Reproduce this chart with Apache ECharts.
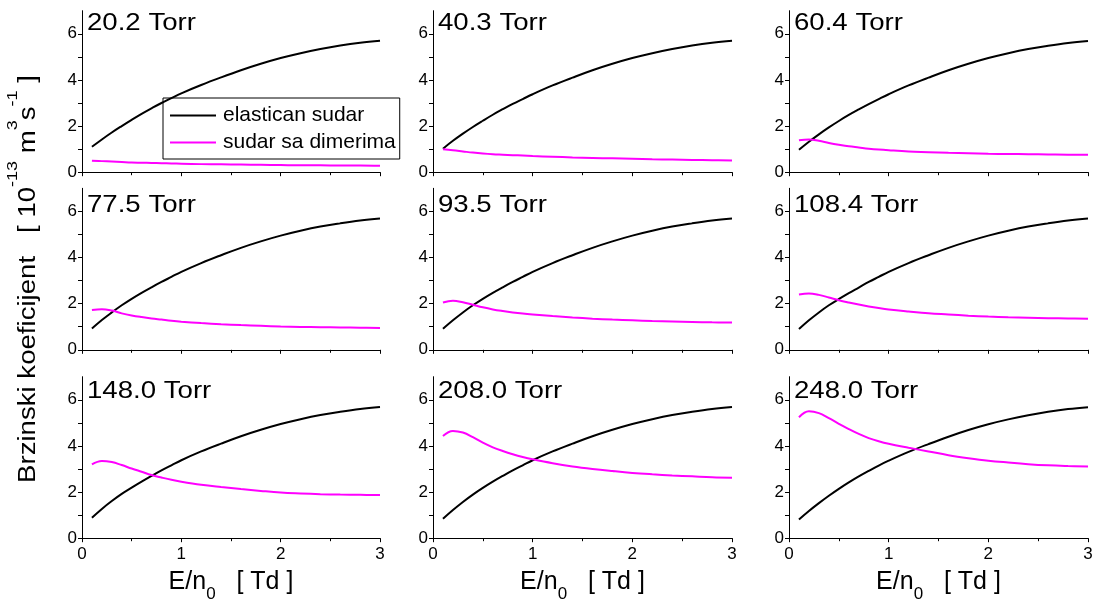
<!DOCTYPE html>
<html>
<head>
<meta charset="utf-8">
<script src="https://cdn.jsdelivr.net/npm/echarts@6/dist/echarts.min.js"></script>
<style>
html,body{margin:0;padding:0;background:#fff;}
#chart{width:1096px;height:606px;}
</style>
</head>
<body>
<div id="chart"></div>
<script>
// ---------- data ----------
const xValues = [0.1,0.2,0.3,0.4,0.5,0.6,0.7,0.8,0.9,1.0,1.2,1.4,1.6,1.8,2.0,2.2,2.4,2.6,2.8,3.0];
const panelTitles = ['20.2 Torr','40.3 Torr','60.4 Torr','77.5 Torr','93.5 Torr','108.4 Torr','148.0 Torr','208.0 Torr','248.0 Torr'];
const seriesNames = ['elastican sudar','sudar sa dimerima'];
const xTickLabels = [0,1,2,3];
const yTickLabels = [0,2,4,6];

// elastican sudar (black)
const elastic1 = [1.10,1.42,1.72,2.00,2.27,2.53,2.77,3.00,3.21,3.42,3.78,4.11,4.42,4.70,4.95,5.16,5.34,5.49,5.61,5.70];
const elastic2 = [1.02,1.36,1.67,1.96,2.23,2.49,2.73,2.96,3.17,3.38,3.76,4.10,4.42,4.70,4.95,5.16,5.34,5.49,5.61,5.70];
const elastic3 = [0.97,1.32,1.64,1.94,2.22,2.48,2.72,2.95,3.17,3.38,3.76,4.10,4.42,4.70,4.95,5.16,5.34,5.48,5.60,5.69];
const elastic4 = [0.92,1.29,1.62,1.93,2.21,2.47,2.71,2.94,3.16,3.38,3.76,4.10,4.42,4.70,4.95,5.16,5.34,5.48,5.60,5.69];
const elastic5 = [0.91,1.28,1.62,1.93,2.21,2.47,2.71,2.94,3.16,3.38,3.76,4.10,4.42,4.70,4.95,5.16,5.34,5.48,5.60,5.69];
const elastic6 = [0.90,1.28,1.62,1.93,2.20,2.46,2.70,2.94,3.16,3.38,3.76,4.10,4.42,4.70,4.95,5.16,5.34,5.48,5.60,5.69];
const elastic7 = [0.89,1.27,1.61,1.92,2.19,2.45,2.70,2.94,3.16,3.38,3.76,4.10,4.42,4.70,4.95,5.16,5.34,5.48,5.60,5.69];
const elastic8 = [0.84,1.22,1.57,1.89,2.18,2.45,2.70,2.94,3.16,3.38,3.76,4.10,4.42,4.70,4.95,5.16,5.34,5.48,5.60,5.69];
const elastic9 = [0.81,1.18,1.52,1.84,2.14,2.42,2.68,2.92,3.15,3.36,3.74,4.08,4.40,4.69,4.94,5.15,5.33,5.48,5.60,5.68];

// sudar sa dimerima (magenta)
const dimer1 = [0.50,0.48,0.46,0.44,0.42,0.41,0.40,0.39,0.38,0.37,0.35,0.34,0.33,0.32,0.31,0.30,0.30,0.29,0.29,0.28];
const dimer2 = [0.99,0.95,0.90,0.85,0.81,0.78,0.76,0.74,0.72,0.70,0.67,0.64,0.62,0.60,0.58,0.56,0.55,0.53,0.52,0.51];
const dimer3 = [1.38,1.42,1.36,1.27,1.19,1.12,1.07,1.02,0.98,0.95,0.90,0.87,0.84,0.82,0.80,0.79,0.78,0.77,0.76,0.76];
const dimer4 = [1.73,1.76,1.70,1.58,1.49,1.42,1.36,1.31,1.26,1.22,1.16,1.11,1.07,1.04,1.01,0.99,0.98,0.97,0.96,0.95];
const dimer5 = [2.05,2.13,2.06,1.95,1.84,1.75,1.68,1.62,1.57,1.53,1.46,1.40,1.35,1.31,1.28,1.25,1.23,1.21,1.19,1.18];
const dimer6 = [2.40,2.44,2.38,2.27,2.15,2.05,1.96,1.88,1.81,1.75,1.66,1.58,1.53,1.48,1.44,1.41,1.39,1.37,1.36,1.35];
const dimer7 = [3.20,3.35,3.30,3.17,3.02,2.88,2.74,2.63,2.53,2.45,2.32,2.22,2.13,2.05,1.98,1.94,1.91,1.89,1.88,1.87];
const dimer8 = [4.43,4.65,4.58,4.38,4.14,3.94,3.78,3.64,3.52,3.42,3.25,3.11,3.00,2.91,2.83,2.77,2.72,2.68,2.64,2.62];
const dimer9 = [5.24,5.50,5.42,5.20,4.96,4.73,4.52,4.34,4.20,4.09,3.92,3.76,3.60,3.47,3.36,3.28,3.21,3.16,3.13,3.11];

const elasticSets = [elastic1,elastic2,elastic3,elastic4,elastic5,elastic6,elastic7,elastic8,elastic9];
const dimerSets = [dimer1,dimer2,dimer3,dimer4,dimer5,dimer6,dimer7,dimer8,dimer9];

// ---------- layout ----------
const colLeft = [82, 433, 789];
const colWidth = [298, 299, 299];
const rowTop = [10.7, 188.3, 376.7];
const rowHeight = 161.5;
const titleY = [12, 194.5, 380];
const FONT = '"Liberation Sans", Arial, sans-serif';

const grids = [], xAxes = [], yAxes = [], series = [], graphics = [];
for (let p = 0; p < 9; p++) {
  const r = Math.floor(p / 3), c = p % 3;
  const bottom = r === 2;
  grids.push({left: colLeft[c], top: rowTop[r], width: colWidth[c], height: rowHeight, containLabel: false});
  xAxes.push({
    type: 'value', gridIndex: p, min: 0, max: 3, interval: 1,
    axisLine: {show: true, onZero: false, lineStyle: {color: '#000', width: 1}},
    axisTick: {show: true, length: 4, lineStyle: {color: '#000', width: 1}},
    minorTick: {show: true, splitNumber: 2, length: 3, lineStyle: {color: '#000', width: 1}},
    splitLine: {show: false},
    axisLabel: {show: bottom, customValues: xTickLabels, color: '#000', fontSize: 17, fontFamily: FONT, margin: 8},
    name: bottom ? '{a|E/n}{s|0}{a|   [ Td ]}' : '',
    nameLocation: 'middle', nameGap: 31,
    nameTextStyle: {
      rich: {
        a: {fontSize: 25, fontFamily: FONT, color: '#000', lineHeight: 34, verticalAlign: 'top'},
        s: {fontSize: 17, fontFamily: FONT, color: '#000', verticalAlign: 'bottom'}
      }
    }
  });
  yAxes.push({
    type: 'value', gridIndex: p, min: 0, max: 7, interval: 1,
    axisLine: {show: true, onZero: false, lineStyle: {color: '#000', width: 1}},
    axisTick: {show: true, length: 4, customValues: [0,1,2,3,4,5,6], lineStyle: {color: '#000', width: 1}},
    splitLine: {show: false},
    axisLabel: {show: true, customValues: yTickLabels, color: '#000', fontSize: 17, fontFamily: FONT, margin: 5}
  });
  series.push({
    name: seriesNames[0], type: 'line', xAxisIndex: p, yAxisIndex: p,
    data: xValues.map((x, i) => [x, elasticSets[p][i]]),
    smooth: 0.4, showSymbol: false, symbol: 'none', animation: false,
    lineStyle: {color: '#000000', width: 2}, itemStyle: {color: '#000000'}
  });
  series.push({
    name: seriesNames[1], type: 'line', xAxisIndex: p, yAxisIndex: p,
    data: xValues.map((x, i) => [x, dimerSets[p][i]]),
    smooth: 0.4, showSymbol: false, symbol: 'none', animation: false,
    lineStyle: {color: '#ff00ff', width: 2}, itemStyle: {color: '#ff00ff'}
  });
  graphics.push({
    type: 'text', x: colLeft[c] + 5, y: titleY[r], scaleX: 1.2, originX: 0,
    style: {text: panelTitles[p], fontSize: 23, fontFamily: FONT, fill: '#000', align: 'left', verticalAlign: 'top'}
  });
}

// y-axis common title
graphics.push({
  type: 'text', x: 22.5, y: 279, rotation: Math.PI / 2, scaleX: 1.2,
  style: {
    text: '{a|Brzinski koeficijent   [ 10}{s|-13}{a| m}{s|3}{a|s}{s|-1}{a| ]}',
    align: 'center', verticalAlign: 'middle',
    rich: {
      a: {fontSize: 23, fontFamily: FONT, fill: '#000', lineHeight: 35, verticalAlign: 'bottom'},
      s: {fontSize: 15, fontFamily: FONT, fill: '#000', verticalAlign: 'top'}
    }
  }
});

const chart = echarts.init(document.getElementById('chart'), null, {renderer: 'canvas', width: 1096, height: 606});
chart.setOption({
  backgroundColor: '#ffffff',
  animation: false,
  textStyle: {fontFamily: FONT},
  grid: grids,
  xAxis: xAxes,
  yAxis: yAxes,
  legend: {
    show: true, orient: 'vertical', left: 163, top: 98,
    padding: [7, 4, 6, 7], itemGap: 6, itemWidth: 46, itemHeight: 2,
    icon: 'rect', selectedMode: false, align: 'left',
    borderColor: '#000', borderWidth: 1, borderRadius: 0,
    data: seriesNames,
    textStyle: {fontSize: 21, fontFamily: FONT, color: '#000', padding: [0, 0, 0, 2]}
  },
  graphic: graphics,
  series: series
});
</script>
</body>
</html>
